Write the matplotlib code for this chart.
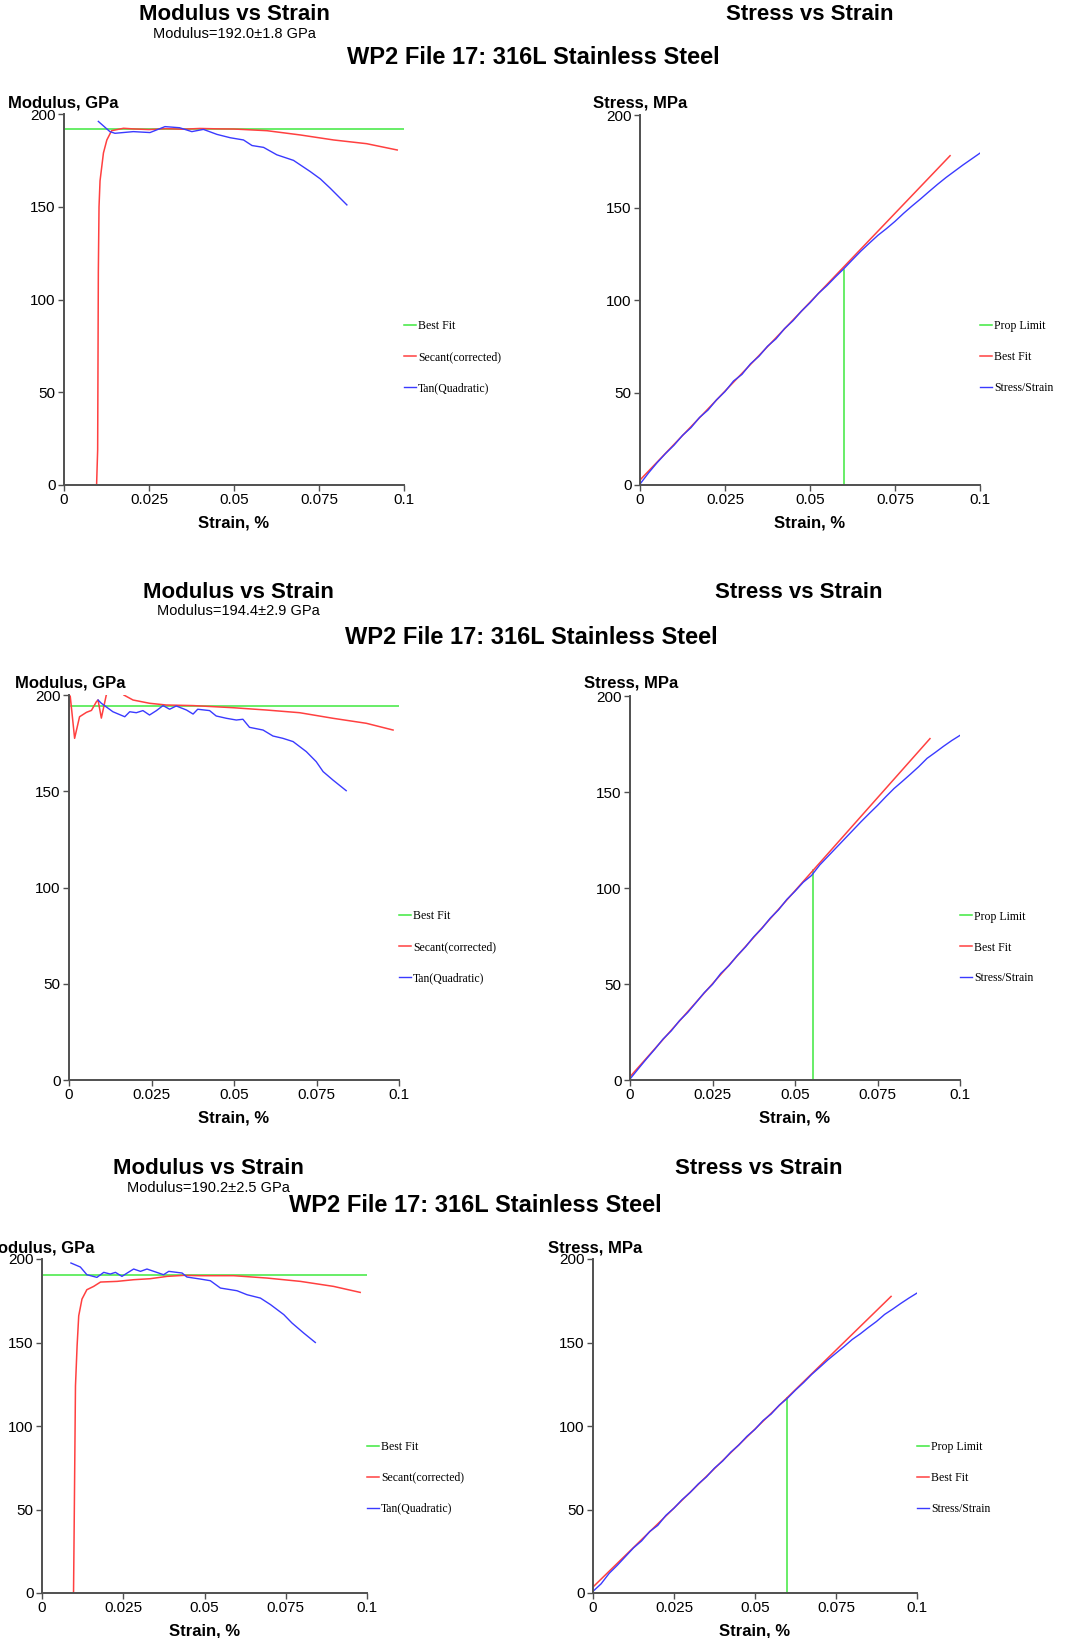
import matplotlib
matplotlib.use("Agg")
import matplotlib.pyplot as plt

plt.rcParams['font.family'] = ['Liberation Sans', 'DejaVu Sans']

W, H = 1066, 1638

# ---- test 1 ----
mod1_fit = 192.0
sec1_x = [0.0096, 0.0099, 0.0101, 0.0103, 0.0106, 0.0116, 0.0126, 0.014, 0.0175, 0.02, 0.025,
          0.03, 0.035, 0.04, 0.045, 0.05, 0.0597, 0.0695, 0.0793, 0.089, 0.098]
sec1_y = [0.9, 19, 115, 150, 164, 179, 186, 191, 192.3, 192.0, 191.6,
          192.1, 191.8, 192.2, 192.0, 191.9, 191.0, 188.7, 186.0, 184.0, 180.6]
tan1_x = [0.0101, 0.0135, 0.015, 0.0204, 0.0253, 0.0297, 0.034, 0.0376, 0.041, 0.045, 0.0489,
          0.0528, 0.0553, 0.0587, 0.0626, 0.0675, 0.0724, 0.0754, 0.0783, 0.0832]
tan1_y = [196, 190.5, 189.6, 190.5, 190, 193.2, 192.6, 190.5, 191.7, 189, 187.2,
          186, 183, 182, 178, 175, 169, 165, 160, 151]
fit1_x = [0.0, 0.0912]
fit1_y = [2.7, 178.0]
prop1 = (0.0599, 116.2)

# ---- test 2 ----
mod2_fit = 194.4
sec2_x = [0.0, 0.0001, 0.0004, 0.0017, 0.0032, 0.0053, 0.0068, 0.0083, 0.0088, 0.0098, 0.0113,
          0.0125, 0.0155, 0.0166, 0.0194, 0.0244, 0.0295, 0.0376, 0.0497, 0.0598, 0.0699,
          0.08, 0.0901, 0.0982]
sec2_y = [146, 200, 199, 177.5, 188.7, 191, 192, 196.5, 197.4, 188, 200,
          203, 203, 200, 197.4, 195.7, 194.8, 194.5, 193.4, 192.2, 190.8,
          187.9, 185.3, 181.8]
tan2_x = [0.0088, 0.0098, 0.0133, 0.0169, 0.0184, 0.0204, 0.0224, 0.0244, 0.0265, 0.0285, 0.0305,
          0.0325, 0.0356, 0.0376, 0.039, 0.0426, 0.0446, 0.0477, 0.0507, 0.0527, 0.0547,
          0.0588, 0.0618, 0.0648, 0.0679, 0.0719, 0.0749, 0.077, 0.08, 0.084]
tan2_y = [197.4, 195.7, 191.3, 188.7, 191.3, 190.8, 191.9, 189.6, 191.9, 194.5, 192.6,
          194.3, 192.2, 190.1, 192.6, 191.9, 189.1, 187.9, 187, 187.4, 183.2,
          181.8, 178.7, 177.5, 175.8, 170.6, 165.4, 160.2, 155.8, 150.3]
fit2_x = [0.0, 0.0909]
fit2_y = [1.7, 177.8]
prop2 = (0.0556, 109.4)

# ---- test 3 ----
mod3_fit = 190.2
sec3_x = [0.0097, 0.0099, 0.0103, 0.0108, 0.0113, 0.0123, 0.0138, 0.0159, 0.018, 0.0231, 0.0282,
          0.0333, 0.0385, 0.0436, 0.0487, 0.059, 0.0692, 0.0795, 0.0897, 0.0979]
sec3_y = [0, 40, 124, 148, 166, 176, 181.6, 183.6, 186.2, 186.6, 187.6,
          188.2, 189.6, 190.2, 190.0, 190.0, 188.6, 186.6, 183.6, 180.0]
tan3_x = [0.0089, 0.0118, 0.0138, 0.0169, 0.019, 0.021, 0.0226, 0.0246, 0.0262, 0.0282, 0.0303,
          0.0323, 0.0344, 0.0374, 0.039, 0.0431, 0.0446, 0.0487, 0.0518, 0.0549, 0.06,
          0.0631, 0.0672, 0.0703, 0.0744, 0.0769, 0.0805, 0.0841]
tan3_y = [197.6, 195.2, 190.6, 189, 192, 191, 192, 189.6, 191.6, 194, 192.6,
          194, 192.6, 190.6, 192.6, 191.6, 189.2, 188, 187, 182.6, 181,
          178.6, 176.6, 172.7, 166.7, 161.7, 155.7, 150]
fit3_x = [0.0, 0.092]
fit3_y = [3.6, 177.6]
prop3 = (0.0599, 116.8)

# measured stress/strain curves (strain steps of 0.0025 %)
ss_strain = [i * 0.0025 for i in range(41)]
ss1_stress = [0.5, 6.5, 12.0, 17.0, 21.5, 26.8, 31.0, 36.5, 40.5, 46.0, 50.5,
              56.2, 59.8, 65.5, 69.6, 75.0, 79.0, 84.5, 88.8, 94.0, 98.5,
              103.6, 107.8, 112.5, 117.0, 121.8, 126.5, 130.8, 135.0, 138.6, 142.5,
              146.8, 150.8, 154.6, 158.6, 162.5, 166.2, 169.6, 173.0, 176.2, 179.4]
ss2_stress = [0.5, 5.8, 11.0, 16.0, 21.3, 25.6, 30.9, 35.2, 40.3, 45.5, 49.8,
              55.5, 59.6, 64.8, 69.3, 74.6, 79.0, 84.3, 88.6, 94.0, 98.3,
              103.0, 106.5, 112.0, 116.5, 121.0, 125.5, 130.0, 134.5, 138.8, 143.0,
              147.5, 151.8, 155.5, 159.3, 163.2, 167.5, 170.6, 173.8, 176.8, 179.5]
ss3_stress = [1.0, 5.5, 11.8, 16.6, 21.8, 27.0, 31.2, 36.8, 40.5, 46.5, 50.8,
              55.9, 60.2, 65.3, 69.5, 74.8, 79.0, 84.3, 88.6, 93.8, 98.0,
              103.3, 107.2, 112.5, 116.6, 121.5, 126.0, 130.9, 135.2, 139.6, 143.6,
              147.6, 151.8, 155.2, 159.0, 162.6, 166.8, 170.0, 173.4, 176.6, 179.6]

xticks = [0, 0.025, 0.05, 0.075, 0.1]
xtick_labels = ['0', '0.025', '0.05', '0.075', '0.1']
yticks = [0, 50, 100, 150, 200]

GREEN = '#3ee83e'
RED = '#ff4040'
BLUE = '#3a3aff'
AXIS = '#505050'

fig = plt.figure(figsize=(W / 100, H / 100), dpi=100)


def fx(x):
    return x / W


def fy(y):
    return 1 - y / H


def panel(x0, y0, x1, y1):
    ax = fig.add_axes([fx(x0), fy(y1), (x1 - x0) / W, (y1 - y0) / H])
    ax.set_xlim(0, 0.1)
    ax.set_ylim(0, 200)
    ax.set_xticks(xticks)
    ax.set_xticklabels(xtick_labels)
    ax.set_yticks(yticks)
    for s in ['top', 'right']:
        ax.spines[s].set_visible(False)
    for s in ['left', 'bottom']:
        ax.spines[s].set_color(AXIS)
        ax.spines[s].set_linewidth(1.4)
    ax.tick_params(length=4, width=1, color=AXIS, labelsize=11, pad=2)
    ax.set_xlabel('Strain, %', fontsize=12, fontweight='bold', labelpad=6)
    return ax


def legend(ax):
    ax.legend(loc='center left', bbox_to_anchor=(1.0, 0.345), frameon=False,
              prop={'family': 'Liberation Serif', 'size': 8.5}, handlelength=1.05,
              handletextpad=0.15, labelspacing=1.6, borderpad=0, borderaxespad=0)


def modulus_panel(box, fit, fit_start, sx, sy, tx, ty):
    ax = panel(*box)
    ax.plot([fit_start, 0.1], [fit, fit], color=GREEN, lw=1.1, label='Best Fit')
    ax.plot(sx, sy, color=RED, lw=1.1, label='Secant(corrected)')
    ax.plot(tx, ty, color=BLUE, lw=1.0, label='Tan(Quadratic)')
    legend(ax)
    return ax


def stress_panel(box, prop, fx_, fy_, sy):
    ax = panel(*box)
    ax.plot([prop[0], prop[0]], [0, prop[1]], color=GREEN, lw=1.1, label='Prop Limit')
    ax.plot(fx_, fy_, color=RED, lw=1.1, label='Best Fit')
    ax.plot(ss_strain, sy, color=BLUE, lw=1.0, label='Stress/Strain')
    legend(ax)
    return ax


def header(mx, sx, y, sub, tx, ty):
    fig.text(fx(mx), fy(y), 'Modulus vs Strain', ha='center', va='center',
             fontsize=16, fontweight='bold')
    fig.text(fx(mx), fy(y + 19), sub, ha='center', va='center', fontsize=10.5)
    fig.text(fx(tx), fy(ty), 'WP2 File 17: 316L Stainless Steel', ha='center', va='center',
             fontsize=17, fontweight='bold')
    fig.text(fx(sx), fy(y), 'Stress vs Strain', ha='center', va='center',
             fontsize=16, fontweight='bold')


def ylab(x, y, s, ha='left'):
    fig.text(fx(x), fy(y), s, ha=ha, va='center', fontsize=12, fontweight='bold')


# row 1
header(234, 810, 15, 'Modulus=192.0\u00b11.8 GPa', 533, 57)
modulus_panel((64, 114, 404, 485), mod1_fit, 0.0, sec1_x, sec1_y, tan1_x, tan1_y)
stress_panel((640, 115, 980, 485), prop1, fit1_x, fit1_y, ss1_stress)
ylab(8, 103, 'Modulus, GPa')
ylab(593, 103, 'Stress, MPa')

# row 2
header(238, 799, 592, 'Modulus=194.4\u00b12.9 GPa', 531, 638)
modulus_panel((69, 695, 399, 1080), mod2_fit, 0.0007, sec2_x, sec2_y, tan2_x, tan2_y)
stress_panel((630, 696, 960, 1080), prop2, fit2_x, fit2_y, ss2_stress)
ylab(15, 683, 'Modulus, GPa')
ylab(584, 683, 'Stress, MPa')

# row 3
header(208, 759, 1169, 'Modulus=190.2\u00b12.5 GPa', 475, 1206)
modulus_panel((42, 1259, 367, 1593), mod3_fit, 0.0, sec3_x, sec3_y, tan3_x, tan3_y)
stress_panel((593, 1259, 917, 1593), prop3, fit3_x, fit3_y, ss3_stress)
ylab(95, 1248, 'Modulus, GPa', ha='right')
ylab(548, 1248, 'Stress, MPa')

fig.savefig('out.png', dpi=100)
